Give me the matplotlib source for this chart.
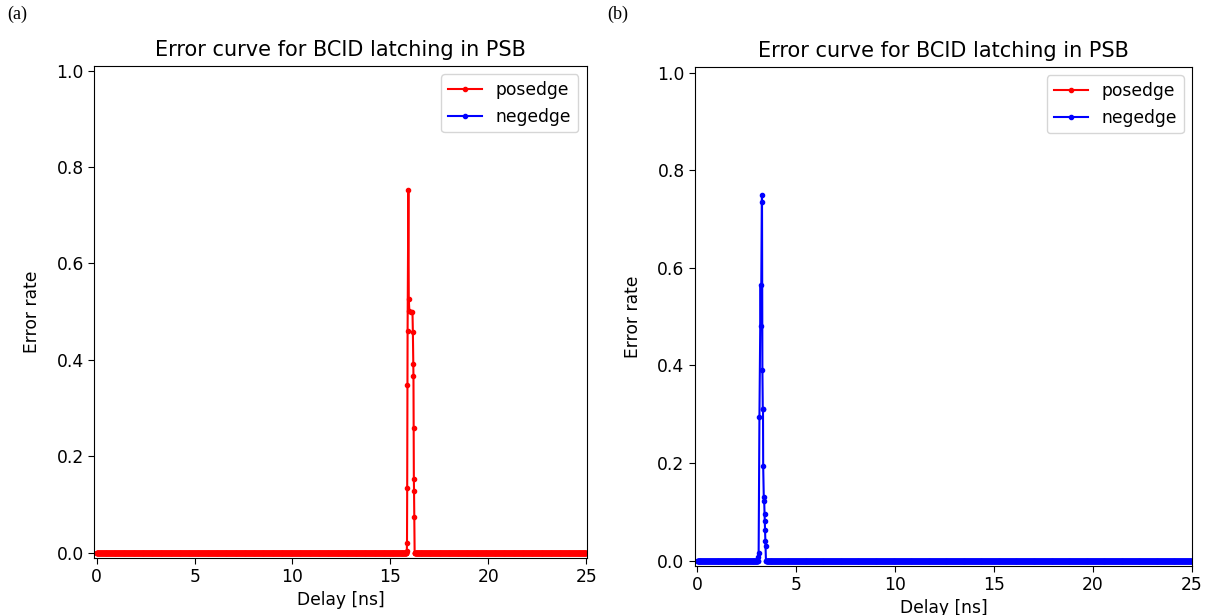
import numpy as np
import matplotlib.pyplot as plt

# delay sweep grid (ns) for the flat zero-error part
sweep_start = 0.0
sweep_stop = 25.0
sweep_step = 0.01

# (a) posedge latching: transition region
pos_peak_delay = [15.84, 15.85, 15.86, 15.87, 15.88, 15.92, 15.94, 15.97, 16.05,
                  16.13, 16.15, 16.17, 16.18, 16.19, 16.20, 16.21, 16.22, 16.24]
pos_peak_rate = [0.004, 0.02, 0.134, 0.347, 0.46, 0.752, 0.527, 0.502, 0.50,
                 0.50, 0.457, 0.392, 0.366, 0.258, 0.152, 0.127, 0.075, 0.0]

# (b) negedge latching: transition region
neg_peak_delay = [3.08, 3.10, 3.14, 3.20, 3.22, 3.26, 3.27, 3.29, 3.31, 3.32,
                  3.33, 3.36, 3.38, 3.40, 3.41, 3.42, 3.44, 3.45, 3.47]
neg_peak_rate = [0.008, 0.015, 0.295, 0.565, 0.48, 0.735, 0.75, 0.391, 0.31, 0.311,
                 0.193, 0.13, 0.123, 0.096, 0.081, 0.063, 0.040, 0.030, 0.0]


def full_curve(peak_delay, peak_rate):
    grid = np.arange(sweep_start, sweep_stop + sweep_step / 2, sweep_step)
    lo = grid[grid < min(peak_delay) - 0.01]
    hi = grid[grid > max(peak_delay) + 0.01]
    x = np.concatenate([lo, peak_delay, hi])
    y = np.concatenate([np.zeros(len(lo)), peak_rate, np.zeros(len(hi))])
    return x, y


fs = 12.3
fig = plt.figure(figsize=(12.08, 6.15), dpi=100)

ax1 = fig.add_axes([0.0781, 0.0927, 0.4076, 0.8005])
ax2 = fig.add_axes([0.5753, 0.0797, 0.4117, 0.8119])

px, py = full_curve(pos_peak_delay, pos_peak_rate)
nx, ny = full_curve(neg_peak_delay, neg_peak_rate)

ax1.plot(px, py, color='red', marker='.', lw=1.5, ms=6, label='posedge')
ax1.plot([], [], color='blue', marker='.', lw=1.5, ms=6, label='negedge')
ax2.plot([], [], color='red', marker='.', lw=1.5, ms=6, label='posedge')
ax2.plot(nx, ny, color='blue', marker='.', lw=1.5, ms=6, label='negedge')

for ax in (ax1, ax2):
    ax.set_xlim(-0.12, 25.03)
    ax.set_title('Error curve for BCID latching in PSB', fontsize=15, pad=7)
    ax.set_xlabel('Delay [ns]', fontsize=fs, labelpad=3)
    ax.set_ylabel('Error rate', fontsize=fs, labelpad=11)
    ax.tick_params(labelsize=fs, length=4)
    ax.legend(loc='upper right', fontsize=fs)

ax1.set_ylim(-0.011, 1.0104)
ax2.set_ylim(-0.011, 1.0123)

fig.text(0.006, 0.99, '(a)', family='Liberation Serif', fontsize=13, va='top')
fig.text(0.503, 0.99, '(b)', family='Liberation Serif', fontsize=13, va='top')

fig.savefig('out.png', dpi=100)
